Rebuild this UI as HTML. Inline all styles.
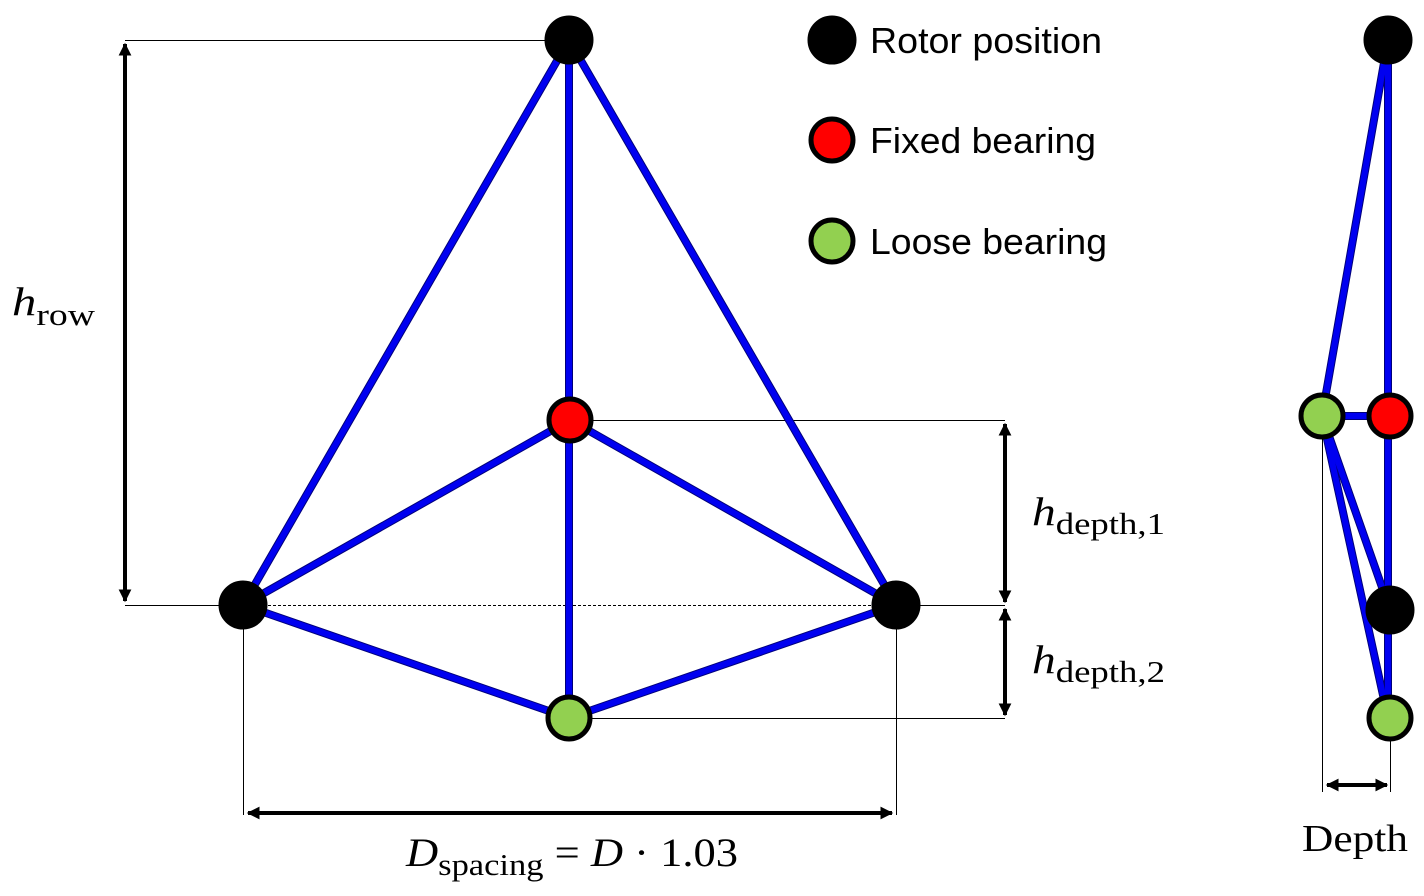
<!DOCTYPE html>
<html><head><style>html,body{margin:0;padding:0;background:#fff}svg{display:block}</style></head>
<body>
<svg width="1424" height="896" viewBox="0 0 1424 896" xmlns="http://www.w3.org/2000/svg">
<defs>
<marker id="ah" viewBox="0 0 10 10" refX="9" refY="5" markerWidth="3.2" markerHeight="3.2" orient="auto-start-reverse" markerUnits="strokeWidth">
<path d="M0,0 L10,5 L0,10 z" fill="#000"/></marker>
</defs>
<g stroke="#000" stroke-width="1" fill="none">
<line x1="125" y1="40.5" x2="569" y2="40.5"/>
<line x1="125" y1="605.5" x2="243" y2="605.5"/>
<line x1="243" y1="605.5" x2="896" y2="605.5" stroke-dasharray="3,2"/>
<line x1="570" y1="420.5" x2="1005" y2="420.5"/>
<line x1="896" y1="605.5" x2="1005" y2="605.5"/>
<line x1="569" y1="718.5" x2="1005" y2="718.5"/>
<line x1="243.5" y1="605" x2="243.5" y2="815"/>
<line x1="896.5" y1="605" x2="896.5" y2="815"/>
<line x1="1322.5" y1="416" x2="1322.5" y2="792"/>
<line x1="1390.5" y1="718" x2="1390.5" y2="792"/>
</g>
<g stroke="#000" stroke-width="4" fill="none">
<line x1="125" y1="44" x2="125" y2="601" marker-start="url(#ah)" marker-end="url(#ah)"/>
<line x1="1005" y1="424" x2="1005" y2="602" marker-start="url(#ah)" marker-end="url(#ah)"/>
<line x1="1005" y1="609" x2="1005" y2="715" marker-start="url(#ah)" marker-end="url(#ah)"/>
<line x1="248" y1="813" x2="892" y2="813" marker-start="url(#ah)" marker-end="url(#ah)"/>
<line x1="1327" y1="785" x2="1387" y2="785" marker-start="url(#ah)" marker-end="url(#ah)"/>
</g>
<g stroke-linecap="round">
<g stroke="#00007a" stroke-width="8">
<line x1="569" y1="40" x2="243" y2="605"/><line x1="569" y1="40" x2="896" y2="605"/>
<line x1="569" y1="40" x2="569" y2="718"/>
<line x1="570" y1="420" x2="243" y2="605"/><line x1="570" y1="420" x2="896" y2="605"/>
<line x1="243" y1="605" x2="569" y2="718"/><line x1="896" y1="605" x2="569" y2="718"/>
<line x1="1388" y1="40" x2="1322" y2="416"/><line x1="1388" y1="40" x2="1388" y2="718"/>
<line x1="1322" y1="416" x2="1388" y2="416"/><line x1="1322" y1="416" x2="1390" y2="610"/>
<line x1="1322" y1="416" x2="1388" y2="718"/>
</g>
<g stroke="#0000f0" stroke-width="6">
<line x1="569" y1="40" x2="243" y2="605"/><line x1="569" y1="40" x2="896" y2="605"/>
<line x1="569" y1="40" x2="569" y2="718"/>
<line x1="570" y1="420" x2="243" y2="605"/><line x1="570" y1="420" x2="896" y2="605"/>
<line x1="243" y1="605" x2="569" y2="718"/><line x1="896" y1="605" x2="569" y2="718"/>
<line x1="1388" y1="40" x2="1322" y2="416"/><line x1="1388" y1="40" x2="1388" y2="718"/>
<line x1="1322" y1="416" x2="1388" y2="416"/><line x1="1322" y1="416" x2="1390" y2="610"/>
<line x1="1322" y1="416" x2="1388" y2="718"/>
</g>
</g>
<g stroke="#000" stroke-width="5">
<circle cx="569" cy="40" r="22" fill="#000"/>
<circle cx="570" cy="420" r="21" fill="#ff0000"/>
<circle cx="243" cy="605" r="22" fill="#000"/>
<circle cx="896" cy="605" r="22" fill="#000"/>
<circle cx="569" cy="718" r="21" fill="#92d050"/>
<circle cx="1388" cy="40" r="22" fill="#000"/>
<circle cx="1322" cy="416" r="21" fill="#92d050"/>
<circle cx="1390" cy="416" r="21" fill="#ff0000"/>
<circle cx="1390" cy="610" r="22" fill="#000"/>
<circle cx="1390" cy="718" r="21" fill="#92d050"/>
<circle cx="832" cy="40" r="22" fill="#000"/>
<circle cx="832" cy="140" r="21" fill="#ff0000"/>
<circle cx="832" cy="241" r="21" fill="#92d050"/>
</g>
<g font-family="Liberation Sans, sans-serif" font-size="36" fill="#000">
<text x="870" y="53" textLength="232" lengthAdjust="spacingAndGlyphs">Rotor position</text>
<text x="870" y="153" textLength="226" lengthAdjust="spacingAndGlyphs">Fixed bearing</text>
<text x="870" y="254" textLength="237" lengthAdjust="spacingAndGlyphs">Loose bearing</text>
</g>
<g font-family="Liberation Serif, serif" fill="#000">
<text x="12" y="315" font-size="40" textLength="83" lengthAdjust="spacingAndGlyphs"><tspan font-style="italic">h</tspan><tspan font-size="31" dy="10">row</tspan></text>
<text x="1032" y="525" font-size="40" textLength="133" lengthAdjust="spacingAndGlyphs"><tspan font-style="italic">h</tspan><tspan font-size="31" dy="9">depth,1</tspan></text>
<text x="1032" y="673" font-size="40" textLength="133" lengthAdjust="spacingAndGlyphs"><tspan font-style="italic">h</tspan><tspan font-size="31" dy="9">depth,2</tspan></text>
<text x="406" y="866" font-size="40" textLength="332" lengthAdjust="spacingAndGlyphs"><tspan font-style="italic">D</tspan><tspan font-size="31" dy="9">spacing</tspan><tspan dy="-9"> = </tspan><tspan font-style="italic">D</tspan><tspan> · 1.03</tspan></text>
<text x="1302" y="851" font-size="38" textLength="106" lengthAdjust="spacingAndGlyphs">Depth</text>
</g>
</svg>
</body></html>
